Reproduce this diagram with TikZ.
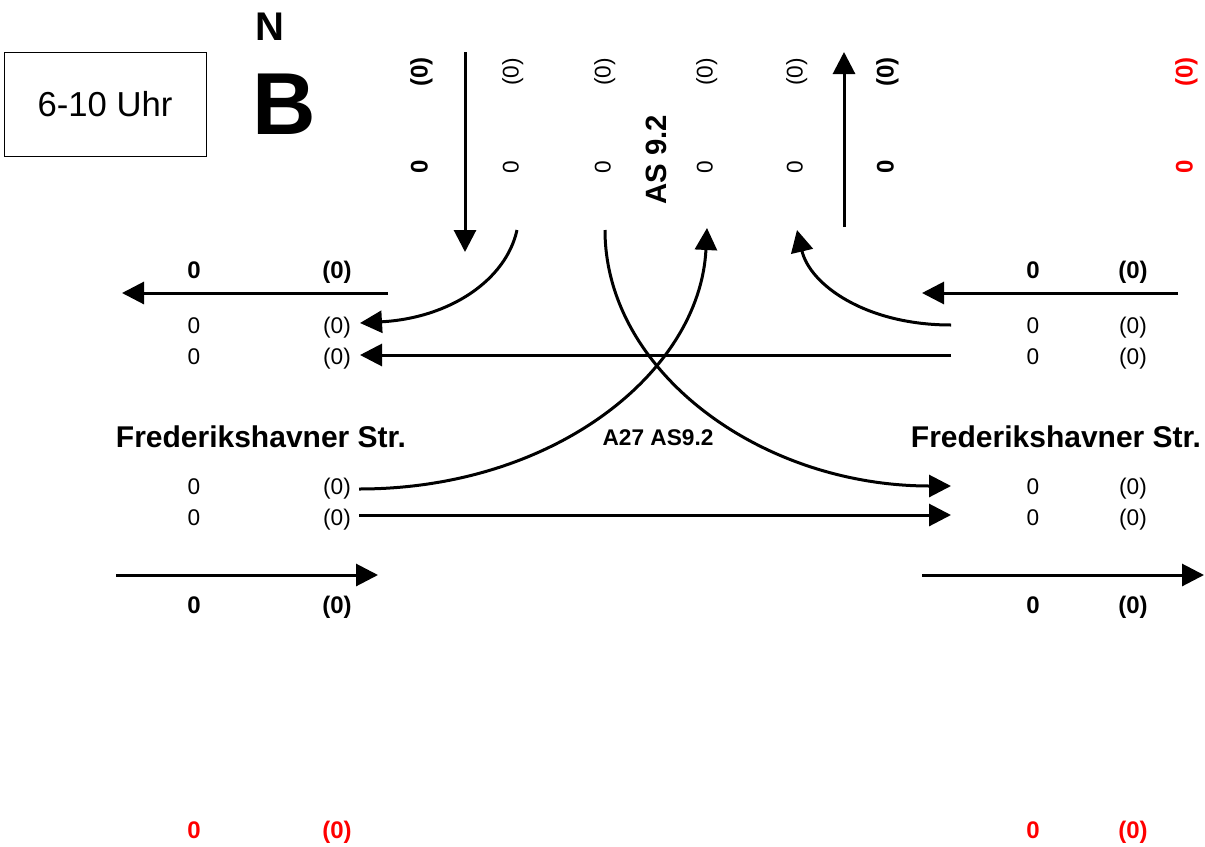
\documentclass[tikz,border=0pt]{standalone}
\usepackage{fontspec}
\setmainfont{Liberation Sans}
\usetikzlibrary{arrows.meta}
\begin{document}
\begin{tikzpicture}[x=0.75pt,y=-0.75pt,
  lbl/.style={inner sep=0pt,text height=0.75em,text depth=0.22em,font=\fontsize{17}{20}\selectfont},
  blbl/.style={inner sep=0pt,text height=0.75em,text depth=0.22em,font=\fontsize{18}{21}\selectfont\bfseries},
  rlbl/.style={blbl,text=red},
  street/.style={inner sep=0pt,font=\fontsize{22.5}{26}\selectfont\bfseries},
  flow/.style={line width=2.25pt,-{Triangle[length=16.5pt,width=16.5pt]}},
  vert/.style={rotate=90}]
\useasboundingbox (0,0) rectangle (1205,846);
% time box and title
\node[draw,line width=0.75pt,minimum width=151.5pt,minimum height=78pt,inner sep=0pt,
      font=\fontsize{26}{30}\selectfont] (time) at (105,104) {6-10 Uhr};
\node[inner sep=0pt,font=\fontsize{30}{34}\selectfont\bfseries] (north) at (270,27) {N};
\node[inner sep=0pt,font=\fontsize{66}{76}\selectfont\bfseries] (site) at (284,104) {B};
% top rotated labels
\node[blbl,vert] (t1a) at (424,72) {(0)};
\node[blbl,vert] (t1b) at (424,167) {0};
\node[lbl,vert] (t2a) at (515,72) {(0)};
\node[lbl,vert] (t2b) at (515,167) {0};
\node[lbl,vert] (t3a) at (607,72) {(0)};
\node[lbl,vert] (t3b) at (607,167) {0};
\node[lbl,vert] (t4a) at (709,72) {(0)};
\node[lbl,vert] (t4b) at (709,167) {0};
\node[lbl,vert] (t5a) at (799,72) {(0)};
\node[lbl,vert] (t5b) at (799,167) {0};
\node[blbl,vert] (t6a) at (890,72) {(0)};
\node[blbl,vert] (t6b) at (890,167) {0};
\node[rlbl,vert] (t7a) at (1189,72) {(0)};
\node[rlbl,vert] (t7b) at (1189,167) {0};
\node[inner sep=0pt,font=\fontsize{22}{26}\selectfont\bfseries,rotate=90] (as) at (656,160) {AS 9.2};
% left side labels
\node[blbl] (l1a) at (194,275) {0};
\node[blbl] (l1b) at (337,275) {(0)};
\node[lbl] (l2a) at (194,330) {0};
\node[lbl] (l2b) at (337,330) {(0)};
\node[lbl] (l3a) at (194,361) {0};
\node[lbl] (l3b) at (337,361) {(0)};
\node[street] (lstreet) at (261,437) {Frederikshavner Str.};
\node[lbl] (l4a) at (194,491) {0};
\node[lbl] (l4b) at (337,491) {(0)};
\node[lbl] (l5a) at (194,522) {0};
\node[lbl] (l5b) at (337,522) {(0)};
\node[blbl] (l6a) at (194,610) {0};
\node[blbl] (l6b) at (337,610) {(0)};
\node[rlbl] (l7a) at (194,835) {0};
\node[rlbl] (l7b) at (337,835) {(0)};
% right side labels
\node[blbl] (r1a) at (1033,275) {0};
\node[blbl] (r1b) at (1133,275) {(0)};
\node[lbl] (r2a) at (1033,330) {0};
\node[lbl] (r2b) at (1133,330) {(0)};
\node[lbl] (r3a) at (1033,361) {0};
\node[lbl] (r3b) at (1133,361) {(0)};
\node[street] (rstreet) at (1056,437) {Frederikshavner Str.};
\node[lbl] (r4a) at (1033,491) {0};
\node[lbl] (r4b) at (1133,491) {(0)};
\node[lbl] (r5a) at (1033,522) {0};
\node[lbl] (r5b) at (1133,522) {(0)};
\node[blbl] (r6a) at (1033,610) {0};
\node[blbl] (r6b) at (1133,610) {(0)};
\node[rlbl] (r7a) at (1033,835) {0};
\node[rlbl] (r7b) at (1133,835) {(0)};
% center label
\node[inner sep=0pt,font=\fontsize{17}{20}\selectfont\bfseries] (mid) at (658,438) {A27 AS9.2};
% connector end points
\coordinate (nIn) at (465,52);   \coordinate (nInEnd) at (465,252);
\coordinate (nOut) at (844,227); \coordinate (nOutEnd) at (844,52);
\coordinate (wOut) at (388,293); \coordinate (wOutEnd) at (122,293);
\coordinate (eOut) at (1178,293);\coordinate (eOutEnd) at (922,293);
\coordinate (wIn) at (116,575);  \coordinate (wInEnd) at (378,575);
\coordinate (eIn) at (922,575);  \coordinate (eInEnd) at (1204,575);
\coordinate (nR) at (517,230);   \coordinate (wR) at (360,323);
\coordinate (eS) at (951,355);   \coordinate (wS) at (360,355);
\coordinate (nL) at (605,230);   \coordinate (eL) at (951,486);
\coordinate (wL) at (359,489);   \coordinate (nLend) at (707,228);
\coordinate (wS2) at (359,515);  \coordinate (eS2) at (951,515);
\coordinate (eR) at (951,325);   \coordinate (nRend) at (797,230);
% connectors
\draw[flow] (nIn) -- (nInEnd);
\draw[flow] (nOut) -- (nOutEnd);
\draw[flow] (wOut) -- (wOutEnd);
\draw[flow] (eOut) -- (eOutEnd);
\draw[flow] (wIn) -- (wInEnd);
\draw[flow] (eIn) -- (eInEnd);
\draw[flow] (nR) .. controls (506,280) and (450,318) .. (wR);
\draw[flow] (eS) -- (wS);
\draw[flow] (nL) .. controls (605,371) and (760,486) .. (eL);
\draw[flow] (wL) .. controls (554,489) and (700,372) .. (nLend);
\draw[flow] (wS2) -- (eS2);
\draw[flow] (eR) .. controls (866,325) and (810,285) .. (nRend);
\end{tikzpicture}
\end{document}
